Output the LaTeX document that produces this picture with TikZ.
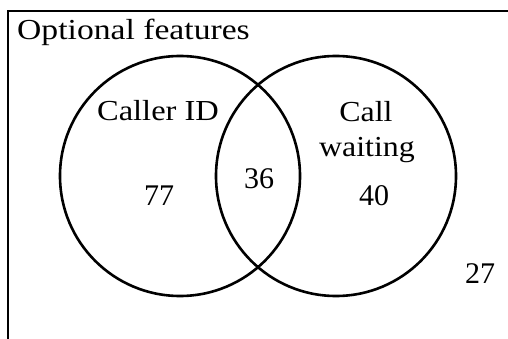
\documentclass[tikz,border=0pt]{standalone}
\usepackage{fontspec}
\setmainfont{Liberation Serif}
\begin{document}
\begin{tikzpicture}[x=1pt,y=-1pt,
  set/.style={circle,draw,line width=2.6pt,minimum size=240pt,inner sep=0pt},
  lbl/.style={font=\fontsize{29}{32}\selectfont,inner sep=0pt,anchor=base},
  num/.style={font=\fontsize{30}{32}\selectfont,inner sep=0pt,anchor=base}]
\useasboundingbox (0,0) rectangle (508,339);
\coordinate (bl) at (8,345);
\coordinate (tl) at (8,11);
\coordinate (tr) at (515,11);
\draw[line width=2.6pt] (bl) -- (tl) -- (tr);
\node[set] (cid) at (180,176) {};
\node[set] (cw) at (336,176) {};
\node[lbl,anchor=base west] (title) at (17,40) {\scalebox{1.16}[1]{Optional features}};
\node[lbl] (callerid) at (158,121) {\scalebox{1.12}[1]{Caller ID}};
\node[lbl] (call) at (366,122) {\scalebox{1.1}[1]{Call}};
\node[lbl] (waiting) at (367,157) {\scalebox{1.1}[1]{waiting}};
\node[num] (n77) at (159,205) {77};
\node[num] (n36) at (259,188) {36};
\node[num] (n40) at (374,205) {40};
\node[num] (n27) at (480,283) {27};
\end{tikzpicture}
\end{document}
